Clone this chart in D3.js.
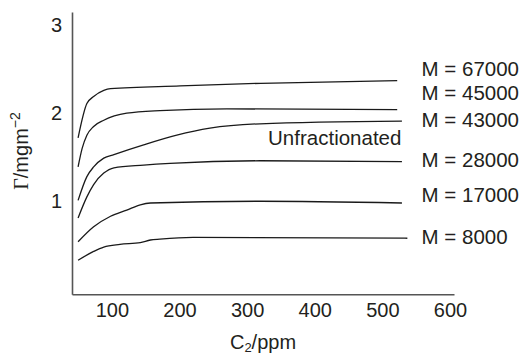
<!DOCTYPE html>
<html>
<head>
<meta charset="utf-8">
<script src="https://cdn.jsdelivr.net/npm/d3@7"></script>
<style>
  body { margin: 0; background: #fff; }
  text { font-family: "Liberation Sans", Arial, Helvetica, sans-serif; fill: #231f20; }
</style>
</head>
<body>
<div id="chart"></div>
<script>
// adsorption isotherms
const xTicks = [100, 200, 300, 400, 500, 600];
const yTicks = [1, 2, 3];

const c67000 = [[50, 1.72], [63, 2.11], [73, 2.19], [88, 2.26], [98, 2.28], [201, 2.31], [320, 2.34], [522, 2.37]];
const c45000 = [[50, 1.39], [56, 1.60], [63, 1.75], [73, 1.85], [88, 1.92], [122, 2.00], [171, 2.03], [270, 2.05], [522, 2.04]];
const cUnfrac = [[50, 1.01], [63, 1.28], [73, 1.39], [88, 1.49], [103, 1.53], [147, 1.64], [196, 1.75], [245, 1.83], [319, 1.88], [529, 1.91]];
const c28000 = [[50, 0.81], [63, 1.05], [73, 1.19], [88, 1.32], [103, 1.38], [147, 1.41], [186, 1.43], [319, 1.46], [529, 1.45]];
const c17000 = [[50, 0.54], [73, 0.71], [98, 0.83], [122, 0.90], [142, 0.96], [157, 0.98], [319, 1.00], [529, 0.98]];
const c8000 = [[50, 0.33], [73, 0.43], [88, 0.48], [112, 0.51], [142, 0.53], [157, 0.56], [171, 0.57], [220, 0.59], [537, 0.58]];

const curves = [c67000, c45000, cUnfrac, c28000, c17000, c8000];
const labels = ["M = 67000", "M = 45000", "M = 43000", "M = 28000", "M = 17000", "M = 8000"];
const labelLevels = [2.51, 2.23, 1.93, 1.47, 1.07, 0.60];

const width = 523, height = 356;

const x = d3.scaleLinear().domain([41, 606]).range([72, 454]);
const y = d3.scaleLinear().domain([-0.057, 3.15]).range([294.3, 12]);

const svg = d3.select("#chart").append("svg")
    .attr("width", width)
    .attr("height", height);

// axes, no tick marks
const xAxis = svg.append("g")
    .attr("transform", "translate(0," + y.range()[0] + ")")
    .call(d3.axisBottom(x).tickValues(xTicks).tickSize(0).tickPadding(9));
const yAxis = svg.append("g")
    .attr("transform", "translate(" + x.range()[0] + ",0)")
    .call(d3.axisLeft(y).tickValues(yTicks).tickFormat(d3.format("d")).tickSize(0).tickPadding(10));

[xAxis, yAxis].forEach(a => {
  a.select(".domain").attr("stroke", "#555").attr("stroke-width", 1.6);
  a.selectAll("text").style("font-size", "20px")
      .style("font-family", "'Liberation Sans', Arial, sans-serif").attr("fill", "#231f20");
});

const line = d3.line()
    .x(d => x(d[0]))
    .y(d => y(d[1]))
    .curve(d3.curveMonotoneX);

svg.selectAll(".curve")
    .data(curves)
  .enter().append("path")
    .attr("class", "curve")
    .attr("d", line)
    .attr("fill", "none")
    .attr("stroke", "#1a1a1a")
    .attr("stroke-width", 1.3);

svg.selectAll(".mlabel")
    .data(labels)
  .enter().append("text")
    .attr("class", "mlabel")
    .attr("x", x(558))
    .attr("y", (d, i) => y(labelLevels[i]))
    .attr("dy", "0.35em")
    .style("font-size", "20.5px")
    .text(d => d);

svg.append("text")
    .attr("x", x(331))
    .attr("y", y(1.72))
    .attr("dy", "0.35em")
    .style("font-size", "20.5px")
    .text("Unfractionated");

// axis titles
const xt = svg.append("text")
    .attr("x", 263)
    .attr("y", 349)
    .attr("text-anchor", "middle")
    .style("font-size", "20px");
xt.append("tspan").text("C");
xt.append("tspan").attr("dy", 3).style("font-size", "13px").text("2");
xt.append("tspan").attr("dy", -3).text("/ppm");

const yt = svg.append("text")
    .attr("transform", "translate(28,151) rotate(-90)")
    .attr("text-anchor", "middle")
    .style("font-size", "20px");
yt.append("tspan").style("font-family", "'Liberation Serif', 'Times New Roman', serif").text("Γ");
yt.append("tspan").text("/mgm");
yt.append("tspan").attr("dy", -8).style("font-size", "14px").text("−2");
</script>
</body>
</html>
